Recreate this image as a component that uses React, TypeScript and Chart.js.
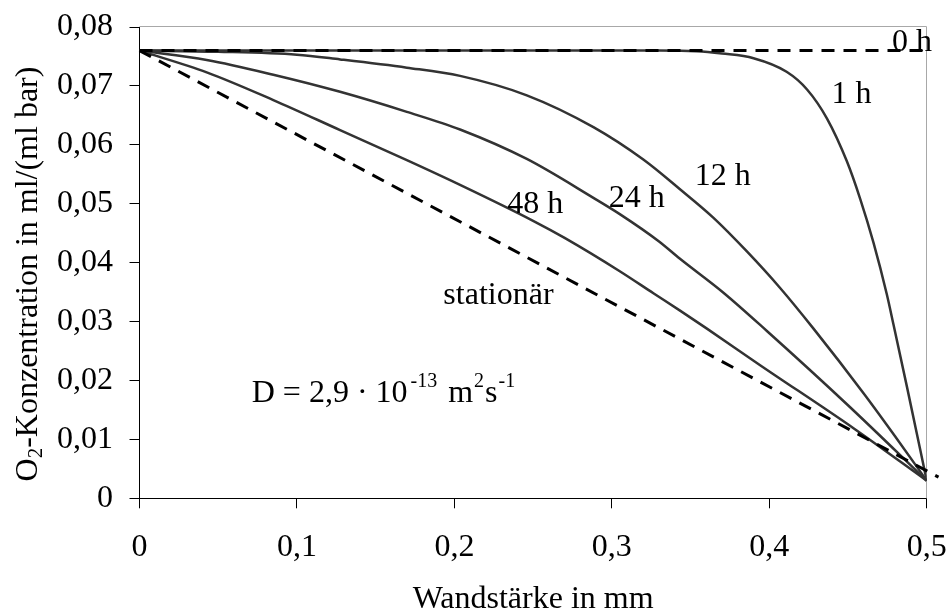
import { useEffect, useRef } from "react";
import { Chart, registerables } from "chart.js";
Chart.register(...registerables);

// ---- data ----
const xTickLabels = ["0", "0,1", "0,2", "0,3", "0,4", "0,5"];
const yTickLabels = ["0", "0,01", "0,02", "0,03", "0,04", "0,05", "0,06", "0,07", "0,08"];

const x0h = [0, 0.503];
const y0h = [0.076, 0.076];

const xStat = [0, 0.5075];
const yStat = [0.076, 0.0036];

const x1h = [0, 0.2, 0.33, 0.354, 0.37, 0.39, 0.411, 0.424, 0.4366, 0.4493, 0.4578, 0.4662, 0.4747, 0.4789, 0.4874, 0.5];
const y1h = [0.076, 0.076, 0.076, 0.0759, 0.0755, 0.0747, 0.0724, 0.0694, 0.0645, 0.0572, 0.0508, 0.0434, 0.0346, 0.0295, 0.019, 0.003];

const x12h = [0, 0.05, 0.1, 0.1274, 0.1698, 0.2036, 0.246, 0.2883, 0.32, 0.3431, 0.3646, 0.3858, 0.4069, 0.4281, 0.46, 0.48, 0.5];
const y12h = [0.076, 0.0758, 0.0753, 0.0745, 0.0731, 0.0717, 0.0684, 0.063, 0.0575, 0.0525, 0.0476, 0.0419, 0.0357, 0.0288, 0.0178, 0.0105, 0.003];

const x24h = [0, 0.0427, 0.085, 0.1274, 0.1698, 0.2036, 0.246, 0.2883, 0.3053, 0.33, 0.3431, 0.3709, 0.3985, 0.45, 0.5];
const y24h = [0.076, 0.0744, 0.0719, 0.069, 0.0656, 0.0626, 0.0576, 0.051, 0.0482, 0.0436, 0.0407, 0.0349, 0.0284, 0.0158, 0.003];

const x48h = [0, 0.0427, 0.085, 0.1274, 0.1698, 0.2036, 0.25, 0.27, 0.3053, 0.3264, 0.3431, 0.3604, 0.3942, 0.4535, 0.5];
const y48h = [0.076, 0.0723, 0.0676, 0.0625, 0.0574, 0.0532, 0.0471, 0.0442, 0.0385, 0.0348, 0.0319, 0.0288, 0.0226, 0.0119, 0.003];

// curve labels (center x, baseline y in data units)
const labelTexts = ["0 h", "1 h", "12 h", "24 h", "48 h", "stationär"];
const labelX = [0.4906, 0.4522, 0.3704, 0.3159, 0.2513, 0.228];
const labelY = [0.0759, 0.0671, 0.0532, 0.0495, 0.0484, 0.0329];

// D annotation anchor (left, baseline)
const dAnchorX = 0.0713;
const dAnchorY = 0.0164;

const xTitle = "Wandstärke in mm";
const yTitleMain = "O";
const yTitleSub = "2";
const yTitleRest = "-Konzentration in ml/(ml bar)";

const FONT = '"Liberation Serif", "Times New Roman", serif';
const f = (s: number) => `${s}px ${FONT}`;

const mk = (xs: number[], ys: number[]) => xs.map((x, i) => ({ x, y: ys[i] }));

type Run = { t: string; size: number; dy: number; gap?: number };

function drawRuns(ctx: CanvasRenderingContext2D, x: number, y: number, runs: Run[]) {
  let cx = x;
  for (const r of runs) {
    cx += r.gap || 0;
    ctx.font = f(r.size);
    ctx.fillText(r.t, cx, y + r.dy);
    cx += ctx.measureText(r.t).width;
  }
}
function runsWidth(ctx: CanvasRenderingContext2D, runs: Run[]) {
  let w = 0;
  for (const r of runs) {
    ctx.font = f(r.size);
    w += ctx.measureText(r.t).width + (r.gap || 0);
  }
  return w;
}

const annotPlugin = {
  id: "annot",
  beforeDatasetsDraw(chart: any) {
    const { ctx, chartArea: a } = chart;
    ctx.save();
    ctx.strokeStyle = "#a8a8a8";
    ctx.lineWidth = 1;
    ctx.beginPath();
    ctx.moveTo(a.left, Math.round(a.top) - 0.5);
    ctx.lineTo(Math.round(a.right) - 0.5, Math.round(a.top) - 0.5);
    ctx.lineTo(Math.round(a.right) - 0.5, a.bottom);
    ctx.stroke();
    ctx.restore();
  },
  afterDatasetsDraw(chart: any) {
    const { ctx, chartArea: a, scales } = chart;
    const xs = scales.x;
    const ys = scales.y;
    ctx.save();
    ctx.fillStyle = "#000";
    ctx.textBaseline = "alphabetic";
    ctx.textAlign = "center";
    ctx.font = f(32);
    labelTexts.forEach((t, i) => {
      ctx.fillText(t, xs.getPixelForValue(labelX[i]), ys.getPixelForValue(labelY[i]));
    });

    ctx.textAlign = "left";
    drawRuns(ctx, xs.getPixelForValue(dAnchorX), ys.getPixelForValue(dAnchorY), [
      { t: "D = 2,9 · 10", size: 32, dy: 0 },
      { t: "-13", size: 20, dy: -15, gap: 3 },
      { t: " m", size: 32, dy: 0, gap: 3 },
      { t: "2", size: 20, dy: -15, gap: 1 },
      { t: "s", size: 32, dy: 0, gap: 1 },
      { t: "-1", size: 20, dy: -15, gap: 1 },
    ]);

    // x title
    ctx.textAlign = "center";
    ctx.font = f(32);
    ctx.fillText(xTitle, (a.left + a.right) / 2, 608);

    // y title (rotated)
    const runs: Run[] = [
      { t: yTitleMain, size: 32, dy: 0 },
      { t: yTitleSub, size: 21, dy: 5 },
      { t: yTitleRest, size: 32, dy: 0 },
    ];
    ctx.textAlign = "left";
    const w = runsWidth(ctx, runs);
    ctx.translate(37, 274);
    ctx.rotate(-Math.PI / 2);
    drawRuns(ctx, -w / 2, 0, runs);
    ctx.restore();
  },
};

const TARGET = { left: 139.5, top: 27, right: 926.7, bottom: 498.3 };

export default function App() {
  const ref = useRef<HTMLCanvasElement | null>(null);
  useEffect(() => {
    if (!ref.current) return;
    const tickFont = { family: FONT, size: 32 };
    const solid = (label: string, xs: number[], ys: number[]) => ({
      label,
      data: mk(xs, ys),
      borderColor: "#333333",
      borderWidth: 2.5,
      cubicInterpolationMode: "monotone" as const,
      order: 1,
    });
    const chart = new Chart(ref.current, {
      type: "scatter",
      data: {
        datasets: [
          {
            label: "0 h",
            data: mk(x0h, y0h),
            borderColor: "#000",
            borderWidth: 3,
            borderDash: [13, 9],
            order: 0,
            clip: false,
          } as any,
          {
            label: "stationär",
            data: mk(xStat, yStat),
            borderColor: "#000",
            borderWidth: 3,
            borderDash: [13, 9],
            order: 0,
            clip: false,
          } as any,
          solid("1 h", x1h, y1h),
          solid("12 h", x12h, y12h),
          solid("24 h", x24h, y24h),
          solid("48 h", x48h, y48h),
        ],
      },
      options: {
        responsive: false,
        animation: false,
        devicePixelRatio: 1,
        showLine: true,
        elements: { point: { radius: 0, hoverRadius: 0 } },
        layout: { padding: { top: 27, right: 21.3, left: 0, bottom: 0 } },
        plugins: { legend: { display: false }, tooltip: { enabled: false } },
        scales: {
          x: {
            type: "linear",
            min: 0,
            max: 0.5,
            ticks: {
              stepSize: 0.1,
              autoSkip: false,
              maxRotation: 0,
              padding: 20,
              color: "#000",
              font: tickFont,
              callback: (_v: any, i: number) => xTickLabels[i],
            },
            grid: { drawOnChartArea: false, tickLength: 10, color: "#000", tickColor: "#000", lineWidth: 1 },
            border: { color: "#000", width: 1 },
            afterFit: (s: any) => {
              s.height = 113.7;
              s.paddingLeft = 0;
              s.paddingRight = 0;
            },
          },
          y: {
            type: "linear",
            min: 0,
            max: 0.08,
            ticks: {
              stepSize: 0.01,
              autoSkip: false,
              padding: 16.5,
              color: "#000",
              font: tickFont,
              callback: (_v: any, i: number) => yTickLabels[i],
            },
            grid: { drawOnChartArea: false, tickLength: 10, color: "#000", tickColor: "#000", lineWidth: 1 },
            border: { color: "#000", width: 1 },
            afterFit: (s: any) => {
              s.width = 139.5;
              s.paddingTop = 0;
              s.paddingBottom = 0;
            },
          },
        },
      } as any,
      plugins: [annotPlugin],
    });
    // correct the plot area so that it lands where the reference has it
    for (let k = 0; k < 3; k++) {
      const a = chart.chartArea;
      const p = (chart.options as any).layout.padding;
      const dTop = TARGET.top - a.top;
      const dRight = a.right - TARGET.right;
      const dLeft = TARGET.left - a.left;
      const dBottom = a.bottom - TARGET.bottom;
      if (Math.abs(dTop) < 0.05 && Math.abs(dRight) < 0.05 && Math.abs(dLeft) < 0.05 && Math.abs(dBottom) < 0.05) break;
      p.top += dTop;
      p.right += dRight;
      p.left += dLeft;
      p.bottom += dBottom;
      chart.update();
    }
    return () => chart.destroy();
  }, []);
  return (
    <div style={{ position: "absolute", left: 0, top: 0, width: 948, height: 612, background: "#fff" }}>
      <canvas ref={ref} width={948} height={612} style={{ width: 948, height: 612, display: "block" }} />
    </div>
  );
}
